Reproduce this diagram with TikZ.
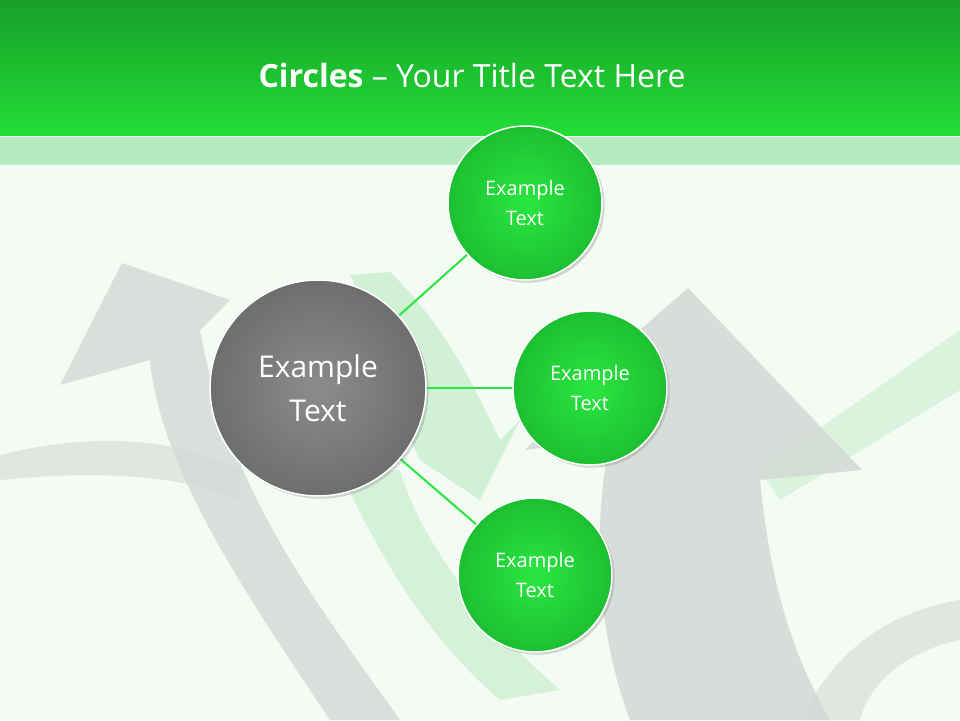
\documentclass[tikz,border=0pt]{standalone}
\usepackage{fontspec}
\setmainfont{Open Sans}
\usetikzlibrary{shadows}
\definecolor{hdrtop}{HTML}{18A02A}
\definecolor{hdrbot}{HTML}{22DD35}
\definecolor{strip}{HTML}{B6EBBF}
\definecolor{bg}{HTML}{F4FBF4}
\definecolor{cgreen}{HTML}{2AE640}
\definecolor{cgreenedge}{HTML}{1CC032}
\definecolor{cgray}{HTML}{8C8C8C}
\definecolor{cgrayedge}{HTML}{6E6E6E}
\definecolor{arrowgray}{HTML}{D3DAD5}
\definecolor{arrowgreen}{HTML}{C8EFCD}
\tikzset{
  small/.style={circle,minimum size=154pt,draw=white,line width=1.5pt,shading=radial,inner color=cgreen,outer color=cgreenedge,text=white,font=\fontsize{20}{30}\selectfont,align=center,drop shadow={opacity=0.3}},
  big/.style={circle,minimum size=216pt,draw=white,line width=1.5pt,shading=radial,inner color=cgray,outer color=cgrayedge,text=white,font=\fontsize{30}{44}\selectfont,align=center,drop shadow={opacity=0.3}},
  link/.style={draw=cgreen,line width=2pt}
}
\begin{document}
\begin{tikzpicture}[x=1pt,y=-1pt]
\useasboundingbox (0,0) rectangle (960,720);
\fill[bg] (0,0) rectangle (960,720);
% background arrows
\fill[arrowgray,opacity=0.8] (60,385) -- (122,263) -- (230,300) -- (200,330) .. controls (230,500) and (330,620) .. (400,720) -- (330,720) .. controls (250,600) and (160,470) .. (150,360) -- cycle;
\fill[arrowgray,opacity=0.6] (0,455) .. controls (100,430) and (180,440) .. (240,470) -- (240,500) .. controls (180,475) and (100,470) .. (0,480) -- cycle;
\fill[arrowgreen,opacity=0.8] (350,275) -- (390,272) .. controls (450,330) and (480,400) .. (500,440) -- (520,420) -- (480,500) -- (420,460) .. controls (400,420) and (380,340) .. cycle;
\fill[arrowgreen,opacity=0.7] (340,470) .. controls (380,560) and (430,640) .. (500,700) -- (560,690) .. controls (480,620) and (420,540) .. (400,470) -- cycle;
\fill[arrowgreen,opacity=0.6] (760,470) -- (960,330) -- (960,390) -- (780,500) -- cycle;
\fill[arrowgray,opacity=0.85] (525,450) -- (640,330) -- (688,288) -- (862,470) -- (760,480) .. controls (770,580) and (790,650) .. (830,720) -- (630,720) .. controls (600,640) and (590,540) .. (610,440) -- cycle;
\fill[arrowgray,opacity=0.6] (800,720) .. controls (840,640) and (900,610) .. (960,600) -- (960,640) .. controls (910,650) and (870,680) .. (860,720) -- cycle;
% header
\shade[top color=hdrtop,bottom color=hdrbot] (0,0) rectangle (960,135);
\fill[strip] (0,137) rectangle (960,165);
\node[text=white,font=\fontsize{32}{38}\selectfont] (title) at (472,75) {\textbf{Circles} – Your Title Text Here};
% connectors first, then circles on top
\coordinate (pc) at (318,388);
\coordinate (pa) at (525,203);
\coordinate (pb) at (590,388);
\coordinate (pd) at (535,575);
\draw[link] (pc) -- (pa);
\draw[link] (pc) -- (pb);
\draw[link] (pc) -- (pd);
\node[big] (c) at (pc) {Example\\Text};
\node[small] (a) at (pa) {Example\\Text};
\node[small] (b) at (pb) {Example\\Text};
\node[small] (d) at (pd) {Example\\Text};
\end{tikzpicture}
\end{document}
